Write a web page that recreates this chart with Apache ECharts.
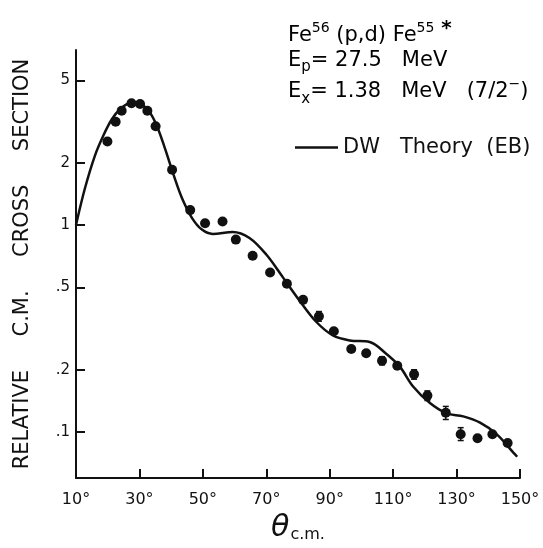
<!DOCTYPE html>
<html><head><meta charset="utf-8">
<script src="https://cdn.jsdelivr.net/npm/echarts@6/dist/echarts.min.js"></script>
<style>html,body{margin:0;padding:0;background:#fff}#c{width:543px;height:548px}</style>
</head><body><div id="c"></div>
<script>
// measured data (theta in degrees c.m., relative cross section)
const thetaObs = [19.9,22.5,24.4,27.5,30.2,32.5,35.1,40.3,46.0,50.7,56.2,60.4,65.7,71.2,76.5,81.6,86.6,91.3,96.8,101.5,106.5,111.3,116.6,120.8,126.6,131.3,136.6,141.3,146.1];
const sigmaObs = [2.53,3.15,3.56,3.87,3.84,3.56,3.0,1.85,1.18,1.02,1.04,0.85,0.71,0.59,0.52,0.435,0.362,0.307,0.252,0.240,0.221,0.209,0.190,0.150,0.124,0.0975,0.0933,0.0975,0.0885];
// error bars
const errTheta = [86.6,106.5,116.6,120.8,126.6,131.3];
const errLow   = [0.343,0.211,0.180,0.142,0.115,0.091];
const errHigh  = [0.382,0.231,0.200,0.158,0.133,0.105];
// DW theory (EB) curve
const thetaTh = [10,12.8,16.0,18.6,21.3,23.9,27.1,30.2,32.9,35.5,38.1,40.8,43.4,46.6,49.7,53.1,59.4,64.7,70.0,75.3,80.5,85.8,91.0,96.3,102.6,107.8,112.1,116.3,121.6,126.9,132.1,137.4,142.7,147.9,149.1];
const sigmaTh = [1.0,1.50,2.17,2.70,3.24,3.62,3.87,3.83,3.56,3.01,2.33,1.74,1.35,1.08,0.95,0.905,0.925,0.866,0.72,0.557,0.431,0.34,0.293,0.277,0.272,0.239,0.207,0.166,0.138,0.123,0.119,0.111,0.0975,0.0796,0.076];
// tick labels
const xTicks = [10,30,50,70,90,110,130,150];
const yTicks = [0.1,0.2,0.5,1,2,5];
const yTickLabels = ['.1','.2','.5','1','2','5'];

const FONT = 'DejaVu Sans';
const INK = '#111';
const chart = echarts.init(document.getElementById('c'), null, {renderer:'canvas'});

const obs = thetaObs.map((t,i)=>[t, sigmaObs[i]]);
const th = thetaTh.map((t,i)=>[t, sigmaTh[i]]);
const errs = errTheta.map((t,i)=>[t, errLow[i], errHigh[i]]);

const base = {fontFamily:FONT, fontSize:21, color:INK, lineHeight:28};
const sup = {fontFamily:FONT, fontSize:14, color:INK, lineHeight:12, padding:[0,0,16,0]};
const minus = {fontFamily:FONT, fontSize:14, color:INK, lineHeight:12, padding:[0,0,14,0]};
const subP = {fontFamily:FONT, fontSize:15, color:INK, lineHeight:12, padding:[14,0,0,0]};
const subX = {fontFamily:FONT, fontSize:15, color:INK, lineHeight:12, padding:[16,0,0,0]};
const ast = {fontFamily:FONT, fontSize:20, fontWeight:'bold', color:INK, lineHeight:12, padding:[0,0,14,0]};

chart.setOption({
  backgroundColor:'#fff',
  animation:false,
  grid:{left:76, right:23, top:50, bottom:66, containLabel:false},
  legend:{
    left:290, top:132, icon:'rect', itemWidth:43, itemHeight:2.5,
    textStyle:{fontFamily:FONT, fontSize:21, color:INK},
    formatter: () => 'DW   Theory  (EB)',
    data:['DW Theory (EB)']
  },
  graphic:[
    {type:'text', left:288, top:19, style:{text:'{b|Fe}{s|56}{b| (p,d) Fe}{s|55}{a| *}', rich:{b:base, s:sup, a:ast}}},
    {type:'text', left:288, top:46, style:{text:'{b|E}{d|p}{b|= 27.5   MeV}', rich:{b:base, d:subP}}},
    {type:'text', left:288, top:76, style:{text:'{b|E}{d|x}{b|= 1.38   MeV   (7/2}{s|−}{b|)}', rich:{b:base, d:subX, s:minus}}}
  ],
  xAxis:{
    type:'value', min:10, max:150, interval:20,
    name:'{t|θ}{s|c.m.}', nameLocation:'middle', nameGap:35,
    nameTextStyle:{rich:{
      t:{fontFamily:FONT, fontStyle:'italic', fontSize:30, color:INK, lineHeight:30},
      s:{fontFamily:FONT, fontSize:16, color:INK, lineHeight:16, padding:[14,0,0,1]}
    }},
    axisLine:{lineStyle:{color:INK, width:2}},
    axisTick:{inside:true, length:9, lineStyle:{color:INK, width:2}},
    axisLabel:{fontFamily:FONT, fontSize:16, color:INK, margin:14, formatter: v => xTicks.includes(v) ? v+'°' : ''},
    splitLine:{show:false}
  },
  yAxis:{
    type:'log', logBase:10, min:0.06, max:7.0,
    name:'RELATIVE     C.M.     CROSS     SECTION', nameLocation:'middle', nameRotate:90, nameGap:43,
    nameTextStyle:{fontFamily:FONT, fontSize:21, color:INK},
    axisLine:{lineStyle:{color:INK, width:2}},
    axisTick:{inside:true, length:9, lineStyle:{color:INK, width:2}, customValues:yTicks},
    axisLabel:{fontFamily:FONT, fontSize:15, color:INK, margin:6, customValues:yTicks,
      formatter: v => { const i = yTicks.findIndex(t => Math.abs(t-v) < 1e-9); return i>=0 ? yTickLabels[i] : ''; }},
    splitLine:{show:false},
    minorTick:{show:false}
  },
  series:[
    {name:'DW Theory (EB)', type:'line', data:th, smooth:0.35, showSymbol:false, symbol:'none',
     lineStyle:{color:INK, width:2.5}, itemStyle:{color:INK}, z:3},
    {name:'data', type:'scatter', data:obs, symbol:'circle', symbolSize:10, itemStyle:{color:INK, opacity:1}, z:4},
    {name:'err', type:'custom', data:errs, z:4,
     renderItem:(params, api) => {
       const x = api.value(0);
       const lo = api.coord([x, api.value(1)]);
       const hi = api.coord([x, api.value(2)]);
       const st = {stroke:INK, lineWidth:1.5};
       return {type:'group', children:[
         {type:'line', shape:{x1:lo[0], y1:lo[1], x2:hi[0], y2:hi[1]}, style:st},
         {type:'line', shape:{x1:lo[0]-3, y1:lo[1], x2:lo[0]+3, y2:lo[1]}, style:st},
         {type:'line', shape:{x1:hi[0]-3, y1:hi[1], x2:hi[0]+3, y2:hi[1]}, style:st}
       ]};
     },
     encode:{x:0, y:[1,2]}}
  ]
});
</script></body></html>
